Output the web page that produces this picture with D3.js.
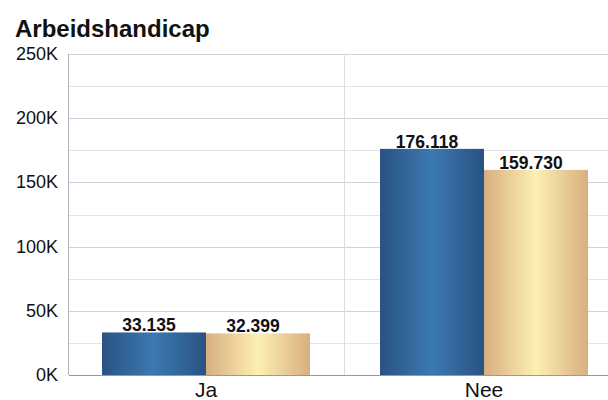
<!DOCTYPE html>
<html><head><meta charset="utf-8">
<script src="https://cdn.jsdelivr.net/npm/d3@7"></script>
<style>body{margin:0;background:#fff;}svg{display:block;font-family:"Liberation Sans",Arial,sans-serif;}</style>
</head><body>
<svg id="c" width="608" height="400"></svg>
<script>
const title = "Arbeidshandicap";
const categories = ["Ja", "Nee"];
const seriesNames = ["A", "B"];
const seriesA = [33135, 176118];
const seriesB = [32399, 159730];
const valueLabelsA = ["33.135", "176.118"];
const valueLabelsB = ["32.399", "159.730"];
const yTicks = [0, 50000, 100000, 150000, 200000, 250000];
const yTickLabels = ["0K", "50K", "100K", "150K", "200K", "250K"];
const minorTicks = [25000, 75000, 125000, 175000, 225000];

const svg = d3.select("#c");
const m = {l: 69, t: 54, r: 623, b: 375};
const x = d3.scaleBand().domain(categories).range([m.l - 2, m.r]).paddingInner(0).paddingOuter(0);
const x1 = d3.scaleBand().domain(seriesNames).range([35, x.bandwidth() - 35]).padding(0);
const y = d3.scaleLinear().domain([0, 250000]).range([m.b, m.t]);

const defs = svg.append("defs");
function grad(id, edge, mid) {
  const g = defs.append("linearGradient").attr("id", id).attr("x1", "0").attr("x2", "1").attr("y1", "0").attr("y2", "0");
  g.append("stop").attr("offset", "0%").attr("stop-color", edge);
  g.append("stop").attr("offset", "50%").attr("stop-color", mid);
  g.append("stop").attr("offset", "100%").attr("stop-color", edge);
}
grad("gA", "#2a5282", "#3b79b2");
grad("gB", "#d8ae80", "#fdf0b3");

// minor grid
svg.append("g").selectAll("line").data(minorTicks).join("line")
  .attr("x1", m.l).attr("x2", 608).attr("y1", d => Math.round(y(d)) + 0.5).attr("y2", d => Math.round(y(d)) + 0.5)
  .attr("stroke", "#e3e3e8").attr("stroke-width", 1);
// major grid
svg.append("g").selectAll("line").data(yTicks.slice(1)).join("line")
  .attr("x1", m.l).attr("x2", 608).attr("y1", d => Math.round(y(d)) + 0.5).attr("y2", d => Math.round(y(d)) + 0.5)
  .attr("stroke", "#cdd3dc").attr("stroke-width", 1);
// vertical category divider
svg.append("line").attr("x1", Math.round(x("Nee")) - 0.5).attr("x2", Math.round(x("Nee")) - 0.5)
  .attr("y1", m.t).attr("y2", m.b).attr("stroke", "#dcdce2");

// y axis labels
svg.append("g").selectAll("text").data(yTicks).join("text")
  .attr("x", 58).attr("y", d => y(d) + 6).attr("text-anchor", "end")
  .attr("font-size", 18).attr("fill", "#111").text((d, i) => yTickLabels[i]);

// bars
const data = categories.map((c, i) => ({c, vals: [
  {s: "A", v: seriesA[i], lab: valueLabelsA[i], fill: "url(#gA)"},
  {s: "B", v: seriesB[i], lab: valueLabelsB[i], fill: "url(#gB)"}]}));
const grp = svg.append("g").selectAll("g").data(data).join("g")
  .attr("transform", d => `translate(${x(d.c)},0)`);
grp.selectAll("rect").data(d => d.vals).join("rect")
  .attr("x", d => x1(d.s)).attr("width", x1.bandwidth())
  .attr("y", d => y(d.v)).attr("height", d => y(0) - y(d.v))
  .attr("fill", d => d.fill);
grp.selectAll("text").data(d => d.vals).join("text")
  .attr("x", d => x1(d.s) + x1.bandwidth() / 2 - 5).attr("y", d => y(d.v) - 1)
  .attr("text-anchor", "middle").attr("font-size", 17.5).attr("font-weight", "bold").attr("fill", "#111")
  .text(d => d.lab);

// axes lines
svg.append("line").attr("x1", m.l - 0.5).attr("x2", m.l - 0.5).attr("y1", m.t).attr("y2", m.b)
  .attr("stroke", "#b0b4bc");
svg.append("line").attr("x1", m.l).attr("x2", 608).attr("y1", m.b + 0.5).attr("y2", m.b + 0.5)
  .attr("stroke", "#999");

// category labels
svg.append("g").selectAll("text").data(categories).join("text")
  .attr("x", d => x(d) + x.bandwidth() / 2).attr("y", 397).attr("text-anchor", "middle")
  .attr("font-size", 21).attr("fill", "#111").text(d => d);

// title
svg.append("text").attr("x", 15).attr("y", 37).attr("font-size", 24).attr("font-weight", "bold")
  .attr("fill", "#111").text(title);
</script>
</body></html>
